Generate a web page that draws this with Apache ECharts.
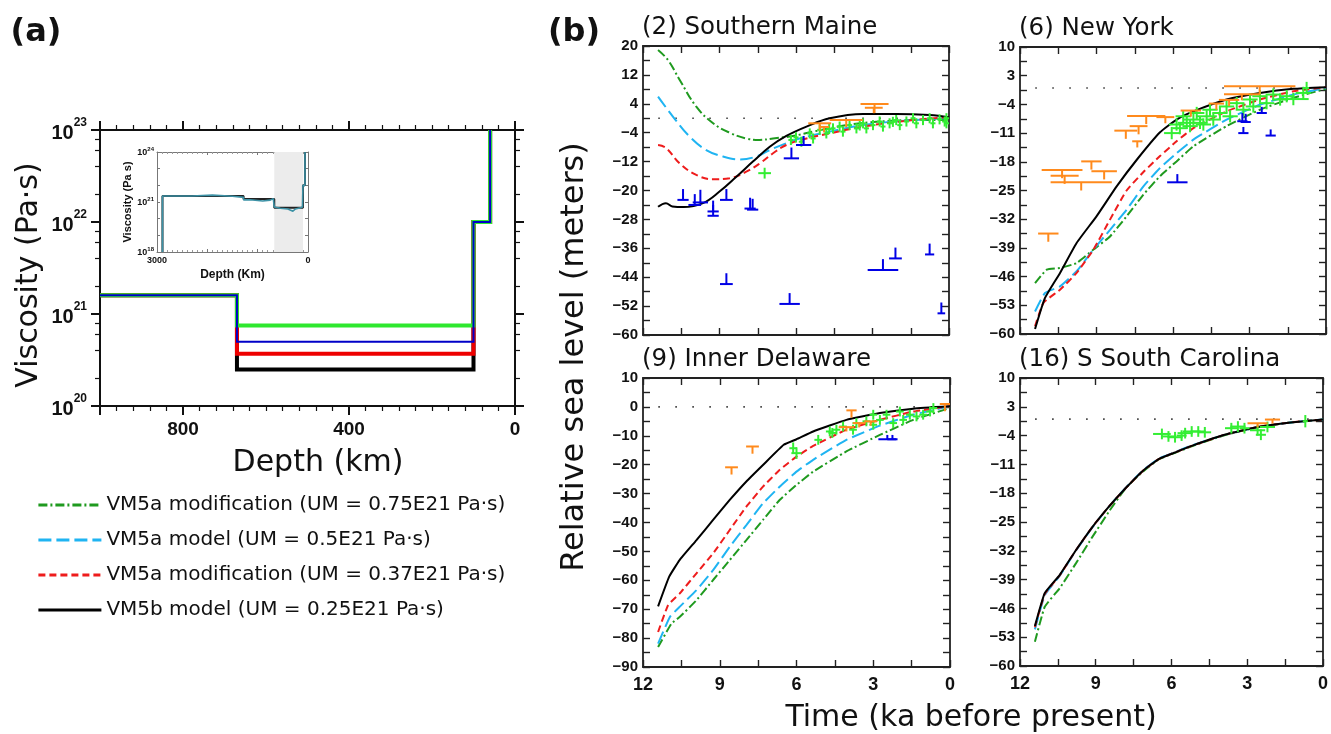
<!DOCTYPE html>
<html>
<head>
<meta charset="utf-8">
<script src="https://cdn.jsdelivr.net/npm/echarts@6/dist/echarts.min.js"></script>
<style>
  html, body { margin: 0; padding: 0; background: #fff; }
  #chart { width: 1331px; height: 734px; }
</style>
</head>
<body>
<div id="chart"></div>
<script>
// ---------- panel (a): viscosity profiles ----------
const modelNames = [
  'VM5a modification (UM = 0.75E21 Pa·s)',
  'VM5a model (UM = 0.5E21 Pa·s)',
  'VM5a modification (UM = 0.37E21 Pa·s)',
  'VM5b model (UM = 0.25E21 Pa·s)'
];
const umViscosity = [0.75e21, 0.5e21, 0.37e21, 0.25e21];
const lowerMantleViscosity = 1.6e21;
const lithoViscosity = 1e22;
const topViscosity = 1e23;
const depthBreaks = [1000, 670, 100, 60];

// inset (whole mantle)
const insetTeal = [[2891, 1e18], [2891, 2.3e21], [2300, 2.3e21], [2300, 2.6e21], [1900, 2.6e21], [1900, 2.2e21],
  [1500, 2.2e21], [1500, 1.9e21], [1280, 1.9e21], [1280, 1.35e21], [1150, 1.35e21], [1150, 1.15e21], [900, 1.15e21],
  [900, 1.3e21], [750, 1.3e21], [750, 1.6e21], [690, 1.6e21], [670, 0.5e21], [550, 0.42e21], [400, 0.38e21],
  [300, 0.28e21], [250, 0.38e21], [150, 0.45e21], [110, 0.5e21], [100, 1e22], [60, 1e22], [60, 1e24]];
const insetBlack = [[2891, 1e18], [2891, 2.3e21], [1280, 2.3e21], [1280, 1.5e21], [670, 1.5e21], [670, 0.45e21],
  [100, 0.45e21], [100, 1e22], [60, 1e22], [60, 1e24]];
const insetUpperMantle = [670, 100];

// ---------- panel (b): relative sea level, [ka, m] ----------
const zeroRef = [[11.4, 0], [0, 0]];

const maineGreen = [[11.41, 18.9], [11.02, 16.1], [10.56, 10.6], [9.91, 3.2], [9.25, -1.4], [8.6, -4.0], [7.95, -5.6],
  [7.42, -6.0], [6.9, -5.6], [6.12, -4.9], [5.33, -3.7], [4.03, -1.9], [2.72, -0.9], [1.41, -0.5], [0.0, -0.5]];
const maineCyan = [[11.41, 6.0], [10.82, 0.4], [10.17, -5.1], [9.52, -8.8], [8.86, -10.6], [8.2, -11.4], [7.56, -10.6],
  [7.03, -8.8], [6.38, -6.9], [5.86, -5.6], [4.68, -3.7], [3.37, -1.9], [1.41, -0.5], [0.0, 0.0]];
const maineRed = [[11.41, -7.4], [11.1, -8.2], [10.56, -12.5], [9.91, -15.7], [9.25, -16.9], [8.6, -16.6], [7.95, -14.8],
  [7.42, -12.5], [6.9, -9.7], [6.38, -7.4], [5.59, -5.6], [4.68, -4.2], [3.37, -2.3], [1.41, -0.5], [0.0, 0.3]];
const maineBlack = [[11.41, -24.5], [11.1, -23.5], [10.85, -24.4], [10.4, -24.6], [9.65, -23.5], [9.0, -20.3],
  [8.34, -16.2], [7.69, -12.0], [7.03, -7.9], [6.38, -4.9], [5.59, -2.3], [4.68, 0.0], [3.37, 1.2], [2.07, 1.2],
  [0.76, 0.9], [0.0, 0.3]];
// [ka, m, half-width ka, stem m]
const maineUp = [[10.43, -22.6, 0.22, 3], [9.97, -24.0, 0.25, 3], [9.75, -23.3, 0.3, 3.5], [9.25, -25.8, 0.22, 3],
  [9.25, -27.0, 0.22, 3], [8.73, -22.6, 0.25, 3], [7.8, -25.0, 0.22, 3], [7.7, -25.3, 0.22, 3], [8.73, -45.9, 0.25, 3],
  [6.25, -51.4, 0.4, 3], [6.18, -11.1, 0.3, 3], [5.7, -7.4, 0.3, 2.5], [2.59, -42.0, 0.6, 3], [2.1, -38.8, 0.25, 3],
  [0.76, -37.7, 0.18, 3], [0.3, -54.0, 0.15, 3]];
const maineDown = [[2.92, 3.95, 0.55, 2.5], [2.95, 2.9, 0.35, 1.5], [5.07, -1.4, 0.45, 2], [4.03, -0.5, 0.65, 2],
  [4.9, -2.4, 0.2, 1.5]];
const maineCross = [[7.23, -15.2, 0.25, 1.5], [6.2, -6.0, 0.1, 1.4], [6.0, -5.3, 0.1, 1.4], [5.79, -6.5, 0.1, 1.4],
  [5.46, -4.2, 0.1, 1.4], [5.33, -5.6, 0.1, 1.4], [5.07, -3.2, 0.1, 1.4], [4.81, -4.2, 0.1, 1.4], [4.7, -3.0, 0.1, 1.4],
  [4.55, -2.8, 0.1, 1.4], [4.29, -2.3, 0.1, 1.4], [4.16, -3.7, 0.1, 1.4], [3.9, -1.9, 0.1, 1.4], [3.63, -2.8, 0.1, 1.4],
  [3.5, -2.0, 0.1, 1.4], [3.37, -1.4, 0.1, 1.4], [3.24, -2.8, 0.1, 1.4], [2.98, -1.9, 0.1, 1.4], [2.72, -0.9, 0.1, 1.4],
  [2.59, -2.3, 0.1, 1.4], [2.33, -1.4, 0.1, 1.4], [2.2, -1.0, 0.1, 1.4], [2.07, -0.5, 0.1, 1.4], [1.93, -1.9, 0.1, 1.4],
  [1.67, -0.9, 0.1, 1.4], [1.41, 0.0, 0.1, 1.4], [1.28, -1.4, 0.1, 1.4], [1.02, -0.5, 0.1, 1.4], [0.76, 0.0, 0.1, 1.4],
  [0.63, -1.4, 0.1, 1.4], [0.37, -0.3, 0.1, 1.4], [0.17, -0.9, 0.1, 1.4], [0.1, 0.0, 0.1, 1.4], [0.1, -1.4, 0.1, 1.4]];

const nyGreen = [[11.41, -47.6], [10.95, -44.3], [10.43, -43.9], [9.78, -42.7], [9.12, -39.4], [8.47, -36.2],
  [7.82, -31.3], [7.16, -26.0], [6.51, -21.5], [5.86, -17.9], [5.2, -14.2], [3.9, -9.3], [2.59, -5.3], [1.28, -2.4],
  [0.0, -0.2]];
const nyCyan = [[11.41, -54.5], [11.02, -50.0], [10.43, -48.4], [9.78, -44.7], [9.12, -39.4], [8.47, -34.6],
  [7.82, -29.7], [7.16, -24.0], [6.51, -19.5], [5.86, -15.9], [5.2, -12.6], [3.9, -7.7], [2.59, -4.1], [1.28, -1.6],
  [0.0, 0.0]];
const nyRed = [[11.41, -58.1], [11.08, -52.4], [10.43, -49.2], [9.78, -45.1], [9.12, -39.4], [8.47, -32.1],
  [7.82, -25.0], [7.16, -20.5], [6.51, -16.6], [5.86, -13.0], [5.2, -9.8], [3.9, -5.7], [2.59, -2.8], [1.28, -0.8],
  [0.0, 0.2]];
const nyBlack = [[11.41, -58.8], [11.02, -51.2], [10.43, -45.1], [9.78, -37.8], [9.0, -31.3], [8.21, -24.0],
  [7.42, -17.5], [6.51, -10.8], [5.86, -7.7], [5.2, -5.7], [3.9, -2.8], [2.59, -1.2], [1.28, -0.2], [0.0, 0.2]];
const nyUp = [[5.83, -23.0, 0.4, 2], [3.28, -8.1, 0.2, 2], [3.15, -8.3, 0.2, 2], [3.24, -11.0, 0.2, 1.5],
  [2.52, -6.1, 0.2, 1.5], [2.17, -11.6, 0.2, 1.5]];
const nyDown = [[10.89, -35.5, 0.4, 2], [10.35, -20.0, 0.8, 2], [10.25, -21.4, 0.55, 2], [9.6, -23.0, 1.2, 2],
  [9.2, -17.9, 0.4, 2], [8.7, -20.3, 0.5, 2], [7.85, -10.4, 0.45, 2], [7.35, -9.3, 0.35, 2], [7.4, -13.0, 0.2, 1.5],
  [7.05, -6.8, 0.75, 2], [6.3, -7.1, 0.35, 1.5], [5.3, -5.5, 0.4, 1.5], [4.3, -3.8, 0.3, 1.5], [3.8, -2.9, 0.4, 1.5],
  [3.3, -1.5, 0.7, 1.5], [2.6, 0.4, 1.4, 2]];
const nyCross = [[6.05, -11.0, 0.3, 1.5], [5.86, -8.9, 0.3, 1.5], [5.73, -9.8, 0.3, 1.5], [5.6, -6.9, 0.3, 1.5],
  [5.46, -8.5, 0.35, 1.5], [5.33, -9.3, 0.3, 1.5], [5.2, -7.7, 0.4, 1.5], [5.07, -6.1, 0.3, 1.5], [4.94, -8.5, 0.3, 1.5],
  [4.81, -8.9, 0.3, 1.5], [4.68, -6.9, 0.4, 1.5], [4.55, -5.3, 0.3, 1.5], [4.42, -7.7, 0.3, 1.5], [4.16, -6.1, 0.3, 1.5],
  [3.9, -4.5, 0.3, 1.5], [3.76, -6.9, 0.3, 1.5], [3.5, -3.7, 0.3, 1.5], [3.24, -5.3, 0.3, 1.5], [2.98, -2.8, 0.3, 1.5],
  [2.85, -4.5, 0.3, 1.5], [2.59, -2.0, 0.3, 1.5], [2.33, -3.7, 0.3, 1.5], [2.07, -1.6, 0.3, 1.5], [1.8, -2.8, 0.3, 1.5],
  [1.54, -2.0, 0.3, 1.5], [1.28, -2.7, 0.6, 1.5], [0.89, -1.2, 0.3, 1.5], [0.76, 0.0, 0.1, 1.5]];

const deGreen = [[11.41, -83.1], [10.89, -75.0], [10.57, -72.7], [9.91, -66.9], [9.26, -59.9], [8.61, -53.0],
  [7.96, -46.1], [7.31, -39.1], [6.66, -32.2], [6.0, -27.0], [5.35, -22.4], [4.05, -15.4], [2.74, -9.7], [1.44, -4.5],
  [0.0, -0.4]];
const deCyan = [[11.41, -81.9], [10.95, -72.7], [10.57, -69.2], [9.91, -63.4], [9.26, -56.5], [8.61, -48.4],
  [7.96, -40.9], [7.31, -33.4], [6.66, -27.6], [6.0, -22.4], [5.35, -18.3], [4.05, -11.4], [2.74, -6.5], [1.44, -2.7],
  [0.0, 0.2]];
const deRed = [[11.41, -77.9], [11.02, -68.6], [10.57, -64.6], [9.91, -57.6], [9.26, -50.7], [8.61, -42.6],
  [7.96, -34.5], [7.31, -27.6], [6.66, -21.8], [6.0, -17.2], [5.35, -13.5], [4.05, -7.9], [2.74, -4.5], [1.44, -1.6],
  [0.0, 0.2]];
const deBlack = [[11.41, -69.0], [10.98, -58.8], [10.57, -53.0], [9.91, -46.1], [9.26, -39.1], [8.61, -32.2],
  [7.96, -25.8], [7.31, -20.1], [6.5, -13.1], [6.0, -11.2], [5.35, -8.5], [4.05, -4.5], [2.74, -2.1], [1.44, -0.6],
  [0.0, 0.2]];
const deUp = [[2.45, -11.2, 0.35, 1.5], [2.25, -11.2, 0.2, 1.5]];
const deDown = [[8.54, -20.9, 0.25, 2.5], [7.72, -13.7, 0.25, 2.5], [3.85, -1.2, 0.2, 2.5], [0.2, 1.0, 0.2, 2.5],
  [4.05, -7.0, 0.3, 1.5], [3.55, -5.6, 0.25, 1.5], [3.1, -5.0, 0.25, 1.5]];
const deCross = [[6.13, -14.3, 0.15, 2], [6.0, -16.0, 0.2, 2], [5.15, -11.4, 0.15, 1.7], [4.7, -8.5, 0.15, 1.7],
  [4.6, -9.0, 0.15, 1.7], [4.44, -7.9, 0.15, 1.7], [4.18, -6.8, 0.15, 1.7], [3.79, -7.9, 0.15, 1.7], [3.66, -5.6, 0.15, 1.7],
  [3.27, -5.0, 0.15, 1.7], [3.0, -6.2, 0.15, 1.7], [3.0, -2.7, 0.15, 1.7], [2.74, -4.5, 0.15, 1.7], [2.48, -2.7, 0.15, 1.7],
  [2.22, -5.6, 0.15, 1.7], [1.96, -1.6, 0.15, 1.7], [1.83, -4.5, 0.15, 1.7], [1.57, -2.7, 0.15, 1.7], [1.31, -3.3, 0.15, 1.7],
  [1.05, -2.7, 0.15, 1.7], [0.78, -1.6, 0.15, 1.7], [0.65, -0.4, 0.15, 1.7]];

const scGreen = [[11.41, -54.1], [11.02, -45.6], [10.43, -41.1], [9.78, -35.0], [9.12, -28.5], [8.47, -22.4],
  [7.82, -16.8], [7.16, -12.9], [6.51, -9.8], [5.86, -8.2], [5.2, -6.6], [3.9, -3.9], [2.59, -2.0], [1.28, -0.8],
  [0.0, -0.1]];
const scCyan = [[11.41, -51.1], [11.02, -42.8], [10.43, -38.1], [9.78, -31.9], [9.12, -26.2], [8.47, -21.2],
  [7.82, -16.7], [7.16, -12.6], [6.51, -9.6], [5.86, -8.0], [5.2, -6.4], [3.9, -3.8], [2.59, -1.9], [1.28, -0.8],
  [0.0, -0.1]];
const scRed = [[11.41, -50.6], [11.02, -42.5], [10.43, -38.0], [9.78, -31.8], [9.12, -26.1], [8.47, -21.2],
  [7.82, -16.8], [7.16, -12.7], [6.51, -9.7], [5.86, -8.1], [5.2, -6.5], [3.9, -3.8], [2.59, -1.9], [1.28, -0.8],
  [0.0, -0.1]];
const scBlack = [[11.41, -50.3], [11.02, -42.3], [10.43, -37.9], [9.78, -31.8], [9.12, -26.1], [8.47, -21.2],
  [7.82, -16.8], [7.16, -12.7], [6.51, -9.7], [5.86, -8.1], [5.2, -6.5], [3.9, -3.8], [2.59, -1.9], [1.28, -0.8],
  [0.0, -0.1]];
const scUp = [];
const scDown = [[2.59, -1.0, 0.4, 1], [2.0, -0.1, 0.3, 1]];
const scCross = [[6.38, -3.6, 0.35, 1.3], [6.12, -4.2, 0.25, 1.3], [5.86, -4.4, 0.3, 1.3], [5.6, -4.0, 0.2, 1.3],
  [5.46, -3.4, 0.3, 1.3], [5.2, -3.0, 0.35, 1.3], [4.94, -3.0, 0.3, 1.3], [4.68, -3.2, 0.25, 1.3], [3.63, -2.2, 0.25, 1.3],
  [3.37, -1.8, 0.3, 1.3], [3.11, -2.2, 0.2, 1.3], [2.59, -2.7, 0.3, 1.3], [2.46, -3.8, 0.2, 1.3], [2.2, -1.9, 0.3, 1.3],
  [0.7, -0.5, 0.1, 1.5]];

const siteTitles = ['(2) Southern Maine', '(6) New York', '(9) Inner Delaware', '(16) S South Carolina'];
const siteYMin = [-60, -60, -90, -60];
const siteYMax = [20, 10, 10, 10];
const siteYStep = [8, 7, 10, 7];
const timeTicks = [12, 9, 6, 3, 0];

// ---------- styling ----------
const TICKFONT = '"Liberation Sans", Arial, sans-serif';
const TEXTFONT = '"DejaVu Sans", sans-serif';
const curveStyles = [
  { color: '#1f9a1f', type: [9, 3, 2, 3] },
  { color: '#1fb4f2', type: [13, 5] },
  { color: '#ee1c1c', type: [7, 4] },
  { color: '#000000', type: 'solid' }
];
const profileStyles = [
  { color: '#2ee82e', width: 4 },
  { color: '#0000c8', width: 2 },
  { color: '#ee0000', width: 4 },
  { color: '#000000', width: 4 }
];
const siteSmooth = [0.4, 0.15, 0.12, 0.12];
const siteBoxes = [
  { left: 643, top: 46, width: 306, height: 289 },
  { left: 1020, top: 47, width: 306, height: 287 },
  { left: 643, top: 378, width: 307, height: 289 },
  { left: 1020, top: 378, width: 306, height: 288 }
];
const sites = [
  { curves: [maineGreen, maineCyan, maineRed, maineBlack], up: maineUp, down: maineDown, cross: maineCross },
  { curves: [nyGreen, nyCyan, nyRed, nyBlack], up: nyUp, down: nyDown, cross: nyCross },
  { curves: [deGreen, deCyan, deRed, deBlack], up: deUp, down: deDown, cross: deCross },
  { curves: [scGreen, scCyan, scRed, scBlack], up: scUp, down: scDown, cross: scCross }
];

function stepProfile(um) {
  const [d0, d1, d2, d3] = depthBreaks;
  return [[d0, lowerMantleViscosity], [d1, lowerMantleViscosity], [d1, um], [d2, um],
    [d2, lithoViscosity], [d3, lithoViscosity], [d3, topViscosity]];
}

function markRenderer(kind, color) {
  return function (params, api) {
    const t = api.value(0), y = api.value(1), hw = api.value(2), h = api.value(3);
    const a = api.coord([t + hw, y]);
    const b = api.coord([t - hw, y]);
    let v0, v1;
    if (kind === 'up') { v0 = api.coord([t, y]); v1 = api.coord([t, y + h]); }
    else if (kind === 'down') { v0 = api.coord([t, y]); v1 = api.coord([t, y - h]); }
    else { v0 = api.coord([t, y - h]); v1 = api.coord([t, y + h]); }
    const style = { stroke: color, lineWidth: 2 };
    return {
      type: 'group',
      children: [
        { type: 'line', shape: { x1: a[0], y1: a[1], x2: b[0], y2: b[1] }, style },
        { type: 'line', shape: { x1: v0[0], y1: v0[1], x2: v1[0], y2: v1[1] }, style }
      ]
    };
  };
}

const minorLog = (lo, hi) => {
  const out = [];
  for (let e = lo; e < hi; e++) [2, 4, 6, 8].forEach(m => out.push(e + Math.log10(m)));
  return out;
};

const powLabel = v => '{b|10}{s|' + Math.round(Math.log10(v)) + '}';

// ---------- grids & axes ----------
const grid = [
  { left: 100, top: 130, width: 415, height: 276 },
  { left: 157, top: 152, width: 151, height: 100, backgroundColor: '#fff', show: true, borderWidth: 0 }
].concat(siteBoxes);

const xAxis = [];
const yAxis = [];

// panel (a)
const depthAxis = (pos) => ({
  gridIndex: 0, type: 'value', position: pos, min: 0, max: 1000, interval: 400, inverse: true,
  axisLine: { onZero: false, lineStyle: { color: '#111', width: 2 } },
  axisTick: { inside: false, length: 9, lineStyle: { color: '#111', width: 2 } },
  minorTick: { show: true, splitNumber: 10, length: 5, lineStyle: { color: '#111', width: 1.2 } },
  splitLine: { show: false },
  axisLabel: {
    show: pos === 'bottom', margin: 14, color: '#111', fontFamily: TICKFONT, fontWeight: 'bold', fontSize: 19,
    formatter: v => (v === 1000 ? '' : v)
  }
});
xAxis.push(depthAxis('bottom'), depthAxis('top'));

const viscAxis = (pos) => ({
  gridIndex: 0, type: 'log', logBase: 10, position: pos, min: 1e20, max: 1e23, interval: 1,
  axisLine: { onZero: false, lineStyle: { color: '#111', width: 2 } },
  axisTick: { inside: false, length: 9, lineStyle: { color: '#111', width: 2 } },
  splitLine: { show: false },
  axisLabel: {
    show: pos === 'left', margin: 13, formatter: powLabel, color: '#111',
    rich: {
      b: { fontFamily: TICKFONT, fontWeight: 'bold', fontSize: 20, color: '#111', verticalAlign: 'bottom', lineHeight: 26 },
      s: { fontFamily: TICKFONT, fontWeight: 'bold', fontSize: 12, color: '#111', verticalAlign: 'top', lineHeight: 12 }
    }
  }
});
const viscMinorAxis = (pos) => ({
  gridIndex: 0, type: 'value', position: pos, min: 20, max: 23,
  axisLine: { show: false, onZero: false },
  axisTick: { inside: false, length: 5, customValues: minorLog(20, 23), lineStyle: { color: '#111', width: 1.2 } },
  splitLine: { show: false },
  axisLabel: { show: false }
});
yAxis.push(viscAxis('left'), viscMinorAxis('left'), viscAxis('right'), viscMinorAxis('right'));

// inset
const insetX = (pos) => ({
  gridIndex: 1, type: 'value', position: pos, min: 0, max: 3000, interval: 1000, inverse: true,
  axisLine: { onZero: false, lineStyle: { color: '#777', width: 1 } },
  axisTick: { inside: true, length: 3, lineStyle: { color: '#777' } },
  minorTick: { show: true, splitNumber: 10, length: 2, lineStyle: { color: '#999' } },
  splitLine: { show: false },
  axisLabel: {
    show: pos === 'bottom', margin: 4, color: '#111', fontFamily: TICKFONT, fontWeight: 'bold', fontSize: 9,
    formatter: v => (v === 3000 || v === 0 ? v : '')
  },
  name: pos === 'bottom' ? 'Depth (Km)' : '', nameLocation: 'middle', nameGap: 17,
  nameTextStyle: { fontFamily: TICKFONT, fontWeight: 'bold', fontSize: 12, color: '#111' }
});
xAxis.push(insetX('bottom'), insetX('top'));
const insetY = (pos) => ({
  gridIndex: 1, type: 'log', logBase: 10, position: pos, min: 1e18, max: 1e24, interval: 1,
  axisLine: { onZero: false, lineStyle: { color: '#777', width: 1 } },
  axisTick: { inside: true, length: 3, lineStyle: { color: '#777' } },
  splitLine: { show: false },
  axisLabel: {
    show: pos === 'left', margin: 3,
    formatter: v => (Math.round(Math.log10(v)) % 3 === 0 ? powLabel(v) : ''),
    rich: {
      b: { fontFamily: TICKFONT, fontWeight: 'bold', fontSize: 9, color: '#111', verticalAlign: 'bottom', lineHeight: 11 },
      s: { fontFamily: TICKFONT, fontWeight: 'bold', fontSize: 6, color: '#111', verticalAlign: 'top', lineHeight: 6 }
    }
  },
  name: pos === 'left' ? 'Viscosity (Pa s)' : '', nameLocation: 'middle', nameGap: 23, nameRotate: 90,
  nameTextStyle: { fontFamily: TICKFONT, fontWeight: 'bold', fontSize: 11, color: '#111' }
});
yAxis.push(insetY('left'), insetY('right'));

// panel (b)
siteBoxes.forEach((box, k) => {
  const g = k + 2;
  const bottomRow = k >= 2;
  const tAxis = (pos) => ({
    gridIndex: g, type: 'value', position: pos, min: 0, max: 12, interval: 3, inverse: true,
    axisLine: { onZero: false, lineStyle: { color: '#222', width: 1.8 } },
    axisTick: { inside: true, length: 7, lineStyle: { color: '#222', width: 1.4 } },
    minorTick: { show: true, splitNumber: 2, length: 7, lineStyle: { color: '#222', width: 1.4 } },
    splitLine: { show: false },
    axisLabel: {
      show: pos === 'bottom' && bottomRow, margin: 9, color: '#111',
      fontFamily: TICKFONT, fontWeight: 'bold', fontSize: 18,
      formatter: v => (timeTicks.includes(v) ? String(v) : '')
    }
  });
  xAxis.push(tAxis('bottom'), tAxis('top'));
  const rAxis = (pos) => ({
    gridIndex: g, type: 'value', position: pos, min: siteYMin[k], max: siteYMax[k], interval: siteYStep[k],
    axisLine: { onZero: false, lineStyle: { color: '#222', width: 1.8 } },
    axisTick: { inside: true, length: 7, lineStyle: { color: '#222', width: 1.4 } },
    minorTick: { show: true, splitNumber: 2, length: 7, lineStyle: { color: '#222', width: 1.4 } },
    splitLine: { show: false },
    axisLabel: {
      show: pos === 'left', margin: 5, color: '#111',
      fontFamily: TICKFONT, fontWeight: 'bold', fontSize: 15,
      formatter: v => String(v).replace('-', '\u2212')
    }
  });
  yAxis.push(rAxis('left'), rAxis('right'));
});

// ---------- series ----------
const series = [];

// panel (b) first, so the legend takes its styles from here
sites.forEach((site, k) => {
  const xi = 4 + 2 * k, yi = 6 + 2 * k;
  series.push({
    type: 'line', xAxisIndex: xi, yAxisIndex: yi, data: zeroRef, symbol: 'none', silent: true,
    lineStyle: { color: '#333', width: 1.6, type: [1.5, 15.5] }, z: 1
  });
  site.curves.forEach((curve, i) => {
    series.push({
      name: modelNames[i], type: 'line', xAxisIndex: xi, yAxisIndex: yi, data: curve,
      symbol: 'none', smooth: siteSmooth[k], clip: true,
      lineStyle: { color: curveStyles[i].color, width: 2, type: curveStyles[i].type },
      itemStyle: { color: curveStyles[i].color }, z: 2 + i
    });
  });
  [['cross', site.cross, '#33ee33'], ['down', site.down, '#ff8a1c'], ['up', site.up, '#0000e6']].forEach(([kind, pts, col]) => {
    series.push({
      type: 'custom', xAxisIndex: xi, yAxisIndex: yi, data: pts, clip: true, silent: true,
      renderItem: markRenderer(kind, col), encode: { x: 0, y: 1 }, z: 10
    });
  });
});

// panel (a) profiles: draw black, red, green, blue (blue on top)
[3, 2, 0, 1].forEach((i, n) => {
  series.push({
    name: 'profile ' + umViscosity[i], type: 'line', xAxisIndex: 0, yAxisIndex: 0,
    data: stepProfile(umViscosity[i]), symbol: 'none', clip: false, silent: true,
    lineStyle: { color: profileStyles[i].color, width: profileStyles[i].width, cap: 'butt', join: 'miter' }, z: 2 + n
  });
});

// inset
series.push({
  type: 'line', xAxisIndex: 2, yAxisIndex: 4, data: insetBlack, symbol: 'none', silent: true,
  lineStyle: { color: '#222', width: 2 }, z: 21,
  markArea: {
    silent: true, itemStyle: { color: '#ececec' },
    data: [[{ xAxis: insetUpperMantle[0] }, { xAxis: insetUpperMantle[1] }]]
  }
});
series.push({
  type: 'line', xAxisIndex: 2, yAxisIndex: 4, data: insetTeal, symbol: 'none', silent: true,
  lineStyle: { color: '#3d92a6', width: 1.6 }, z: 22
});

// ---------- texts ----------
const txt = (x, y, text, font, opts = {}) => Object.assign({
  type: 'text', x, y, silent: true,
  style: { text, font, fill: '#111', textAlign: 'center', textVerticalAlign: 'middle' }
}, opts);

const graphic = [
  txt(36, 33, '(a)', 'bold 32px ' + TEXTFONT),
  txt(574, 33, '(b)', 'bold 32px ' + TEXTFONT),
  txt(29, 275, 'Viscosity (Pa\u00b7s)', '30px ' + TEXTFONT, { rotation: Math.PI / 2 }),
  txt(318, 463, 'Depth (km)', '30px ' + TEXTFONT),
  txt(575, 357, 'Relative sea level (meters)', '32px ' + TEXTFONT, { rotation: Math.PI / 2 }),
  txt(971, 718, 'Time (ka before present)', '30px ' + TEXTFONT)
];
siteBoxes.forEach((box, k) => {
  const t = txt(box.left - 1, box.top - 18, siteTitles[k], '24.5px ' + TEXTFONT);
  t.style.textAlign = 'left';
  graphic.push(t);
});

const chart = echarts.init(document.getElementById('chart'));
chart.setOption({
  animation: false,
  backgroundColor: '#fff',
  grid, xAxis, yAxis, series, graphic,
  legend: {
    data: modelNames, orient: 'vertical', left: 32, top: 490,
    itemWidth: 63, itemHeight: 16, itemGap: 15,
    itemStyle: { opacity: 0 },
    lineStyle: { width: 2.8 },
    textStyle: { fontFamily: TEXTFONT, fontSize: 20, color: '#111' },
    selectedMode: false
  }
});
</script>
</body>
</html>
